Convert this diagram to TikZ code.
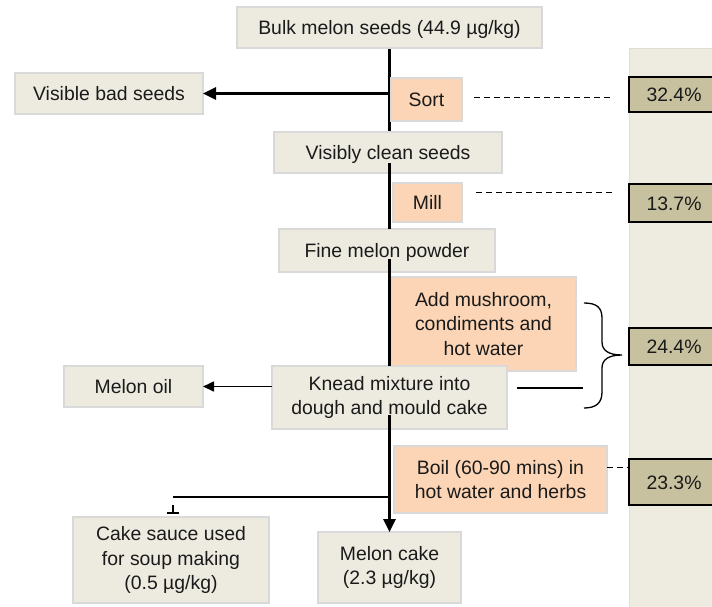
\documentclass[tikz,border=0pt]{standalone}
\usepackage{fontspec}
\setmainfont{Liberation Sans}
\usetikzlibrary{arrows.meta}
\definecolor{boxfill}{HTML}{EDEBE0}
\definecolor{boxline}{HTML}{D9D9D9}
\definecolor{peach}{HTML}{FBD5B5}
\definecolor{khaki}{HTML}{C8C19F}
\definecolor{colfill}{HTML}{EEEBE1}
\definecolor{colline}{HTML}{E0DDD2}
\definecolor{ink}{HTML}{1A1A1A}
\pgfdeclarelayer{background}
\pgfsetlayers{background,main}
\begin{document}
\begin{tikzpicture}[x=1pt,y=-1pt,
  every node/.style={font=\fontsize{19.4}{24.3}\selectfont, text=ink, inner sep=0pt, outer sep=0pt},
  stage/.style={draw=boxline, line width=1.3pt, fill=boxfill, align=center},
  act/.style={draw=boxline, line width=1.3pt, fill=peach, align=center},
  pct/.style={draw=black, line width=1.3pt, fill=khaki},
  one/.style={text height=18pt, text depth=4pt},
  flow/.style={line width=2.75pt, draw=black},
  bigtip/.style={-{Triangle[length=13pt,width=12pt]}},
  dashes/.style={line width=1pt, dash pattern=on 6pt off 4pt},
  thinline/.style={line width=1.2pt}
]
\clip (0,0) rectangle (712,606);

% right column
\fill[colfill] (629,48) rectangle (716,610);
\draw[colline, line width=1pt] (629.5,610) -- (629.5,48.5) -- (716,48.5);

% percentage boxes
\node[pct, one, minimum width=90pt, minimum height=35pt] (p1) at (674,94.5) {32.4\%};
\node[pct, one, minimum width=90pt, minimum height=38pt] (p2) at (674,203) {13.7\%};
\node[pct, one, minimum width=90pt, minimum height=37pt] (p3) at (674,346.5) {24.4\%};
\node[pct, one, minimum width=90pt, minimum height=46pt] (p4) at (674,482) {23.3\%};

% stage boxes
\node[stage, one, minimum width=305pt, minimum height=41pt] (bulk) at (389.5,27.5) {Bulk melon seeds (44.9 µg/kg)};
\node[stage, one, minimum width=188pt, minimum height=41pt] (bad) at (109,93.5) {Visible bad seeds};
\node[act, one, minimum width=71pt, minimum height=43pt] (sort) at (426.5,99.5) {Sort};
\node[stage, one, minimum width=228pt, minimum height=41pt] (clean) at (388,152.5) {Visibly clean seeds};
\node[act, one, minimum width=69pt, minimum height=39pt] (mill) at (427.5,202.5) {Mill};
\node[stage, one, minimum width=216pt, minimum height=43pt] (powder) at (387,250.5) {Fine melon powder};
\node[act, minimum width=185pt, minimum height=94pt] (add) at (483.5,324) {Add mushroom,\\condiments and\\hot water};
\node[stage, minimum width=235pt, minimum height=63pt] (knead) at (389.5,397.5) {Knead mixture into\\dough and mould cake};
\node[stage, one, minimum width=139pt, minimum height=41pt] (oil) at (133.5,386.5) {Melon oil};
\node[act, minimum width=213pt, minimum height=67pt] (boil) at (500.5,479.5) {Boil (60-90 mins) in\\hot water and herbs};
\node[stage, minimum width=196pt, minimum height=86pt] (sauce) at (171,560) {Cake sauce used\\for soup making\\(0.5 µg/kg)};
\node[stage, minimum width=143pt, minimum height=71pt] (cake) at (389.5,567.5) {Melon cake\\(2.3 µg/kg)};

% connector points
\coordinate (split) at (389.5,497);
\coordinate (sbend) at (173,497);
\coordinate (stub) at (173,505);
\coordinate (cleanout) at (389.5,163);
\coordinate (powderout) at (389.5,259);
\coordinate (kneadout) at (389.5,415);
\coordinate (ds1) at (474,97);
\coordinate (de1) at (612,97);
\coordinate (ds2) at (476,192);
\coordinate (de2) at (613,192);
\coordinate (ds4) at (607,467);
\coordinate (de4) at (629,467);
\coordinate (ks) at (517,388);
\coordinate (ke) at (583,388);

% main flow
\begin{pgfonlayer}{background}
\draw[flow] (bulk.south) -- (bulk.south |- clean.north);
\end{pgfonlayer}
\draw[flow] (cleanout) -- (cleanout |- powder.north);
\draw[flow] (powderout) -- (powderout |- knead.north);
\draw[flow, bigtip] (kneadout) -- (cake.north);
\draw[flow, bigtip] (bulk.south |- bad.east) -- (bad.east);
\draw[line width=1.6pt, -{Triangle[length=11pt,width=10pt]}] (knead.west |- oil.east) -- (oil.east);
\draw[flow] (split) -- (sbend);
\draw[line width=2pt, -{Bar[width=12pt]}, shorten >=3pt] (stub) -- (stub |- sauce.north);

\draw[dashes] (ds1) -- (de1);
\draw[dashes] (ds2) -- (de2);
\draw[dashes] (ds4) -- (de4);
\draw[thinline] (ks) -- (ke);

% brace
\draw[line width=1.3pt] (584,303) .. controls (596,303) and (602,307) .. (602,318)
  -- (602,342) .. controls (602,350) and (608,355) .. (622,355)
  .. controls (608,355) and (602,360) .. (602,368)
  -- (602,392) .. controls (602,403) and (596,408) .. (584,408);
\end{tikzpicture}
\end{document}
